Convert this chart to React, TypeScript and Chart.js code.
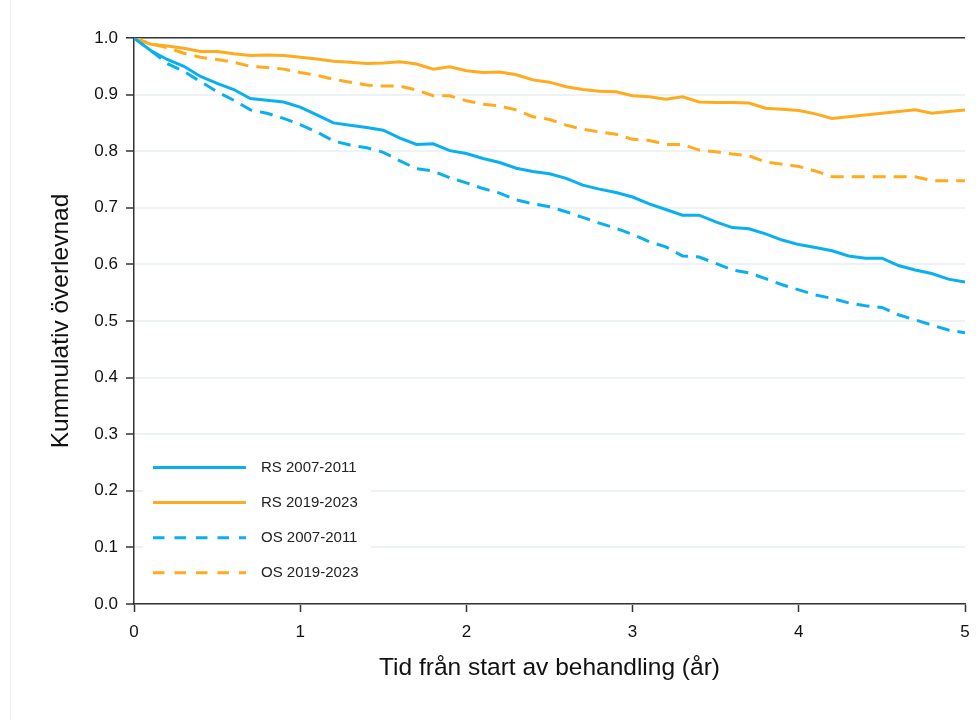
import React, { useEffect, useRef } from 'react';
import { Chart, registerables } from 'chart.js';

Chart.register(...registerables);

// Time (years) since start of treatment
const years = [
  0, 0.1, 0.2, 0.3, 0.4, 0.5, 0.6, 0.7, 0.8, 0.9,
  1.0, 1.1, 1.2, 1.3, 1.4, 1.5, 1.6, 1.7, 1.8, 1.9,
  2.0, 2.1, 2.2, 2.3, 2.4, 2.5, 2.6, 2.7, 2.8, 2.9,
  3.0, 3.1, 3.2, 3.3, 3.4, 3.5, 3.6, 3.7, 3.8, 3.9,
  4.0, 4.1, 4.2, 4.3, 4.4, 4.5, 4.6, 4.7, 4.8, 4.9,
  5.0,
];

const seriesLabels = ['RS 2007-2011', 'RS 2019-2023', 'OS 2007-2011', 'OS 2019-2023'];

const rs2007 = [
  1.0, 0.978, 0.962, 0.950, 0.932, 0.920, 0.909, 0.893, 0.890, 0.887,
  0.878, 0.864, 0.850, 0.846, 0.842, 0.837, 0.823, 0.812, 0.813, 0.801,
  0.796, 0.787, 0.780, 0.770, 0.764, 0.760, 0.752, 0.740, 0.733, 0.727,
  0.719, 0.707, 0.697, 0.687, 0.687, 0.675, 0.665, 0.663, 0.654, 0.643,
  0.635, 0.630, 0.624, 0.615, 0.611, 0.611, 0.598, 0.590, 0.584, 0.574,
  0.569,
];

const rs2019 = [
  1.0, 0.989, 0.986, 0.982, 0.976, 0.976, 0.972, 0.969, 0.970, 0.969,
  0.966, 0.963, 0.959, 0.957, 0.955, 0.956, 0.958, 0.954, 0.945, 0.949,
  0.942, 0.939, 0.940, 0.935, 0.926, 0.922, 0.914, 0.909, 0.906, 0.905,
  0.898, 0.896, 0.892, 0.896, 0.887, 0.886, 0.886, 0.885, 0.876, 0.874,
  0.872, 0.866, 0.858, null, null, null, null, 0.873, 0.867, 0.870,
  0.873,
];

const os2007 = [
  1.0, 0.978, 0.955, 0.941, 0.923, 0.905, 0.890, 0.873, 0.867, 0.858,
  0.847, 0.834, 0.818, 0.811, 0.806, 0.798, 0.783, 0.769, 0.765, 0.753,
  0.744, 0.734, 0.726, 0.714, 0.707, 0.702, 0.693, 0.683, 0.673, 0.664,
  0.653, 0.640, 0.631, 0.615, 0.613, 0.602, 0.590, 0.585, 0.575, 0.564,
  0.555, 0.546, 0.540, 0.532, 0.527, 0.524, 0.511, 0.502, 0.493, 0.484,
  0.479,
];

const os2019 = [
  1.0, 0.990, 0.983, 0.973, 0.966, 0.962, 0.957, 0.950, 0.948, 0.945,
  0.939, 0.934, 0.927, 0.922, 0.917, 0.915, 0.915, 0.908, 0.898, 0.898,
  0.889, 0.883, 0.880, 0.873, 0.861, 0.856, 0.846, 0.839, 0.834, 0.830,
  0.821, 0.819, 0.812, 0.812, 0.802, 0.799, 0.795, 0.792, 0.781, 0.777,
  0.773, 0.765, 0.755, 0.755, 0.755, 0.755, 0.755, 0.755, 0.748, 0.748,
  0.748,
];

const xTicks = [0, 1, 2, 3, 4, 5];
const yTicks = [0, 0.1, 0.2, 0.3, 0.4, 0.5, 0.6, 0.7, 0.8, 0.9, 1.0];

const BLUE = '#0AAFEF';
const ORANGE = '#FFAB1F';
const FONT = '"Liberation Sans", Arial, Helvetica, sans-serif';

const toPoints = (vals: (number | null)[]) =>
  years.map((x, i) => ({ x, y: vals[i] }));

const legendPlugin = {
  id: 'insideLegend',
  afterDatasetsDraw(chart: any) {
    const { ctx, chartArea } = chart;
    const left = chartArea.left;
    const bottom = chartArea.bottom;
    ctx.save();
    ctx.fillStyle = '#ffffff';
    ctx.fillRect(left + 9, bottom - 154, 228, 150);
    chart.data.datasets.forEach((ds: any, i: number) => {
      const y = bottom - 136.5 + i * 35.1;
      ctx.strokeStyle = ds.borderColor;
      ctx.lineWidth = 3;
      ctx.setLineDash(ds.borderDash && ds.borderDash.length ? [11.5, 10] : []);
      ctx.beginPath();
      ctx.moveTo(left + 19, y);
      ctx.lineTo(left + 112, y);
      ctx.stroke();
      ctx.setLineDash([]);
      ctx.fillStyle = '#222222';
      ctx.font = `15px ${FONT}`;
      ctx.textBaseline = 'middle';
      ctx.textAlign = 'left';
      ctx.fillText(ds.label, left + 127, y + 0.5);
    });
    ctx.restore();
  },
};

const framePlugin = {
  id: 'faintFrame',
  beforeDraw(chart: any) {
    const { ctx, height } = chart;
    ctx.save();
    ctx.strokeStyle = '#efefef';
    ctx.lineWidth = 1;
    ctx.beginPath();
    ctx.moveTo(10.5, 0);
    ctx.lineTo(10.5, height);
    ctx.stroke();
    ctx.restore();
  },
};

export default function App() {
  const canvasRef = useRef<HTMLCanvasElement | null>(null);

  useEffect(() => {
    const canvas = canvasRef.current;
    if (!canvas) return;
    const chart = new Chart(canvas, {
      type: 'line',
      data: {
        datasets: [
          {
            label: seriesLabels[0],
            data: toPoints(rs2007),
            borderColor: BLUE,
            backgroundColor: BLUE,
            borderWidth: 3,
            pointRadius: 0,
            tension: 0,
            spanGaps: true,
          },
          {
            label: seriesLabels[1],
            data: toPoints(rs2019),
            borderColor: ORANGE,
            backgroundColor: ORANGE,
            borderWidth: 3,
            pointRadius: 0,
            tension: 0,
            spanGaps: true,
          },
          {
            label: seriesLabels[2],
            data: toPoints(os2007),
            borderColor: BLUE,
            backgroundColor: BLUE,
            borderWidth: 3,
            borderDash: [13, 8],
            pointRadius: 0,
            tension: 0,
            spanGaps: true,
          },
          {
            label: seriesLabels[3],
            data: toPoints(os2019),
            borderColor: ORANGE,
            backgroundColor: ORANGE,
            borderWidth: 3,
            borderDash: [13, 8],
            pointRadius: 0,
            tension: 0,
            spanGaps: true,
          },
        ],
      },
      options: {
        animation: false,
        responsive: false,
        maintainAspectRatio: false,
        devicePixelRatio: 1,
        layout: { padding: { left: 0, right: 13, top: 38, bottom: 0 } },
        plugins: {
          legend: { display: false },
          tooltip: { enabled: false },
        },
        scales: {
          x: {
            type: 'linear',
            min: xTicks[0],
            max: xTicks[xTicks.length - 1],
            afterFit: (s: any) => {
              s.height = 116;
              s.paddingLeft = 0;
              s.paddingRight = 0;
            },
            afterBuildTicks: (s: any) => {
              s.ticks = xTicks.map((v) => ({ value: v }));
            },
            ticks: {
              color: '#111111',
              font: { family: FONT, size: 17 },
              padding: 10,
              maxRotation: 0,
              callback: (v: any) => String(v),
            },
            grid: {
              display: true,
              drawOnChartArea: false,
              drawTicks: true,
              tickLength: 8,
              tickColor: '#333333',
              tickWidth: 1.5,
            },
            border: { display: true, color: '#333333', width: 1.5 },
            title: {
              display: true,
              text: 'Tid från start av behandling (år)',
              color: '#111111',
              font: { family: FONT, size: 24.5 },
              padding: { top: 0, bottom: 37 },
            },
          },
          y: {
            type: 'linear',
            min: yTicks[0],
            max: yTicks[yTicks.length - 1],
            afterFit: (s: any) => {
              s.width = 134;
            },
            afterBuildTicks: (s: any) => {
              s.ticks = yTicks.map((v) => ({ value: v }));
            },
            ticks: {
              color: '#111111',
              font: { family: FONT, size: 17 },
              padding: 8,
              callback: (v: any) => Number(v).toFixed(1),
            },
            grid: {
              display: true,
              drawOnChartArea: true,
              drawTicks: true,
              tickLength: 8,
              tickColor: '#333333',
              tickWidth: 1.5,
              color: (ctx: any) =>
                ctx.tick && Math.abs(ctx.tick.value - 1) < 1e-9 ? '#333333' : '#edf2f4',
              lineWidth: (ctx: any) =>
                ctx.tick && Math.abs(ctx.tick.value - 1) < 1e-9 ? 1.5 : 2,
            },
            border: { display: true, color: '#333333', width: 1.5 },
            title: {
              display: true,
              text: 'Kummulativ överlevnad',
              color: '#111111',
              font: { family: FONT, size: 24.5 },
              padding: { top: 47, bottom: 0 },
            },
          },
        },
      },
      plugins: [framePlugin, legendPlugin],
    });
    return () => {
      chart.destroy();
    };
  }, []);

  return (
    <div style={{ position: 'fixed', left: 0, top: 0, width: 978, height: 720, background: '#ffffff' }}>
      <canvas ref={canvasRef} width={978} height={720} style={{ width: 978, height: 720, display: 'block' }} />
    </div>
  );
}
